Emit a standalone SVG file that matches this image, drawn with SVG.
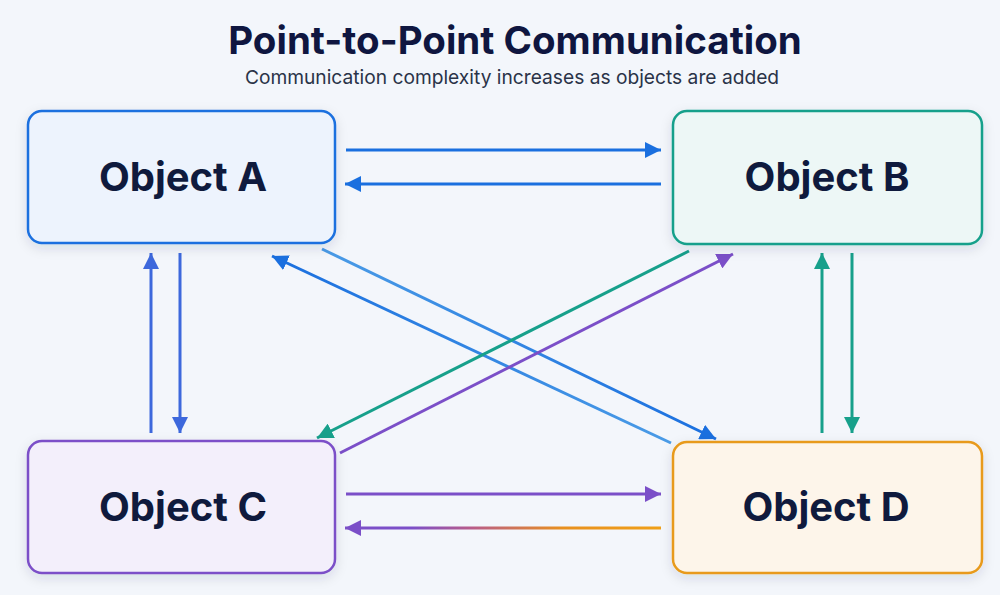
<svg xmlns="http://www.w3.org/2000/svg" width="1000" height="595" viewBox="0 0 1000 595">
  <defs>
    <style>
      .title { font-family: Inter, "Liberation Sans", sans-serif; font-weight: 700; font-size: 38.5px; fill: #0f1640; }
      .sub { font-family: Inter, "Liberation Sans", sans-serif; font-weight: 400; font-size: 19.2px; fill: #2a3348; }
      .label { font-family: Inter, "Liberation Sans", sans-serif; font-weight: 700; font-size: 40px; fill: #0f1a3d; }
      .box { stroke-width: 2.5; }
      .conn { fill: none; stroke-width: 3; stroke-linecap: butt; }
    </style>
    <filter id="shadow" x="-10%" y="-10%" width="120%" height="130%">
      <feDropShadow dx="0" dy="4" stdDeviation="6" flood-color="#1a2a50" flood-opacity="0.12"/>
    </filter>
    <marker id="mBlue" markerUnits="userSpaceOnUse" markerWidth="17" markerHeight="16" refX="16" refY="8" orient="auto">
      <path d="M0,0 L16,8 L0,16 z" fill="#1a6fdf"/>
    </marker>
    <marker id="mRoyal" markerUnits="userSpaceOnUse" markerWidth="17" markerHeight="16" refX="16" refY="8" orient="auto">
      <path d="M0,0 L16,8 L0,16 z" fill="#3d68dc"/>
    </marker>
    <marker id="mTeal" markerUnits="userSpaceOnUse" markerWidth="17" markerHeight="16" refX="16" refY="8" orient="auto">
      <path d="M0,0 L16,8 L0,16 z" fill="#17a08b"/>
    </marker>
    <marker id="mPurple" markerUnits="userSpaceOnUse" markerWidth="17" markerHeight="16" refX="16" refY="8" orient="auto">
      <path d="M0,0 L16,8 L0,16 z" fill="#7b4fc8"/>
    </marker>
    <linearGradient id="gDC" gradientUnits="userSpaceOnUse" x1="661" y1="0" x2="345" y2="0">
      <stop offset="0" stop-color="#f0a018"/>
      <stop offset="0.31" stop-color="#e8901e"/>
      <stop offset="0.6" stop-color="#b85c8a"/>
      <stop offset="0.79" stop-color="#7b4fc8"/>
      <stop offset="1" stop-color="#7b4fc8"/>
    </linearGradient>
    <linearGradient id="gAD" gradientUnits="userSpaceOnUse" x1="322" y1="249" x2="716" y2="439">
      <stop offset="0" stop-color="#4a9be6"/>
      <stop offset="1" stop-color="#1a6fdf"/>
    </linearGradient>
    <linearGradient id="gDA" gradientUnits="userSpaceOnUse" x1="671" y1="443" x2="272" y2="256">
      <stop offset="0" stop-color="#4a9be6"/>
      <stop offset="1" stop-color="#1a6fdf"/>
    </linearGradient>
  </defs>

  <rect width="1000" height="595" fill="#f3f6fb"/>

  <text class="title" x="515" y="54" text-anchor="middle">Point-to-Point Communication</text>
  <text class="sub" x="512" y="84" text-anchor="middle">Communication complexity increases as objects are added</text>

  <g id="connectors">
    <!-- A <-> B -->
    <path class="conn" d="M346,150 L661,150" stroke="#1a6fdf" marker-end="url(#mBlue)"/>
    <path class="conn" d="M661,184 L345,184" stroke="#1a6fdf" marker-end="url(#mBlue)"/>
    <!-- C <-> D -->
    <path class="conn" d="M346,494 L661,494" stroke="#7b4fc8" marker-end="url(#mPurple)"/>
    <path class="conn" d="M661,528 L345,528" stroke="url(#gDC)" marker-end="url(#mPurple)"/>
    <!-- A <-> C -->
    <path class="conn" d="M151,433 L151,253" stroke="#3d68dc" marker-end="url(#mRoyal)"/>
    <path class="conn" d="M180,253 L180,433" stroke="#3d68dc" marker-end="url(#mRoyal)"/>
    <!-- B <-> D -->
    <path class="conn" d="M822,433 L822,253" stroke="#17a08b" marker-end="url(#mTeal)"/>
    <path class="conn" d="M852,253 L852,433" stroke="#17a08b" marker-end="url(#mTeal)"/>
    <!-- A <-> D -->
    <path class="conn" d="M322,249 L716,439" stroke="url(#gAD)" marker-end="url(#mBlue)"/>
    <path class="conn" d="M671,443 L272,256" stroke="url(#gDA)" marker-end="url(#mBlue)"/>
    <!-- B <-> C -->
    <path class="conn" d="M689,251 L317,438" stroke="#17a08b" marker-end="url(#mTeal)"/>
    <path class="conn" d="M340,453 L733,254" stroke="#7b4fc8" marker-end="url(#mPurple)"/>
  </g>

  <g id="objectA">
    <rect class="box" x="28" y="111" width="307" height="132" rx="14" fill="#edf3fd" stroke="#1a6fdf" filter="url(#shadow)"/>
    <text class="label" x="183" y="191" text-anchor="middle">Object A</text>
  </g>
  <g id="objectB">
    <rect class="box" x="673" y="111" width="309" height="133" rx="14" fill="#edf7f6" stroke="#17a08b" filter="url(#shadow)"/>
    <text class="label" x="827" y="191" text-anchor="middle">Object B</text>
  </g>
  <g id="objectC">
    <rect class="box" x="28" y="441" width="307" height="132" rx="14" fill="#f3effb" stroke="#7b4fc8" filter="url(#shadow)"/>
    <text class="label" x="183" y="521" text-anchor="middle">Object C</text>
  </g>
  <g id="objectD">
    <rect class="box" x="673" y="442" width="309" height="131" rx="14" fill="#fdf5ea" stroke="#e89a1a" filter="url(#shadow)"/>
    <text class="label" x="826" y="521" text-anchor="middle">Object D</text>
  </g>
</svg>
